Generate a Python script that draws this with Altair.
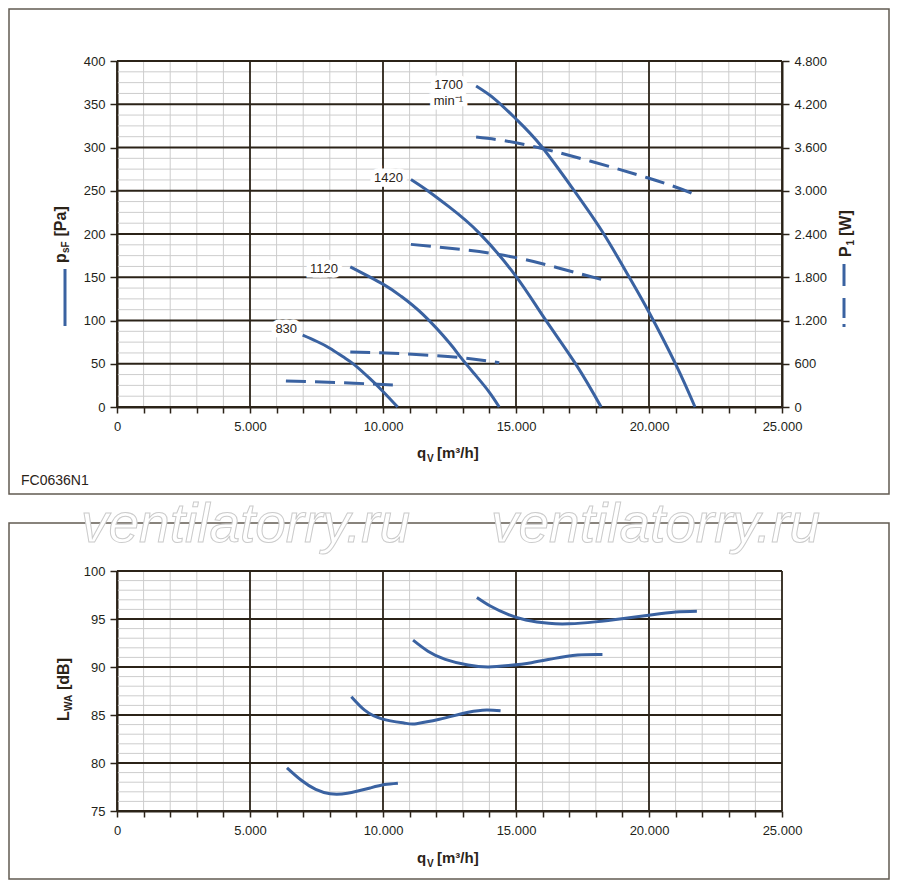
#%%
import pandas as pd
import altair as alt

#%%
# characteristic curves (speeds in min-1)
speeds = ["830", "1120", "1420", "1700"]

# static pressure p_sF [Pa] over air flow q_V [m3/h]
q_830 = [6980, 7500, 8000, 8500, 8920, 9500, 10000, 10550]
p_830 = [83, 76, 68, 58, 49, 33, 18, 0]
q_1120 = [8770, 10000, 10680, 11500, 12500, 12930, 13500, 14000, 14370]
p_1120 = [162, 142, 128, 107, 74, 57, 36, 17, 0]
q_1420 = [11050, 11680, 12500, 13620, 15000, 16060, 17260, 18200]
p_1420 = [263, 250, 231, 201, 151, 103, 49, 0]
q_1700 = [13500, 14200, 15000, 15940, 17190, 18260, 19260, 20010, 21010, 21730]
p_1700 = [371, 356, 333, 302, 250, 202, 150, 109, 49, 0]

# input power P_1 [W]
qw_830 = [6350, 8920, 10550]
w_830 = [362, 330, 300]
qw_1120 = [8770, 10680, 12930, 14370]
w_1120 = [763, 740, 684, 614]
qw_1420 = [11050, 14310, 16560, 18200]
w_1420 = [2256, 2118, 1932, 1771]
qw_1700 = [13500, 15940, 19940, 21770]
w_1700 = [3745, 3590, 3180, 2940]

# sound power L_WA [dB]
ql_830 = [6390, 6930, 7470, 8010, 8660, 9520, 10060, 10560]
l_830 = [79.5, 78.2, 77.25, 76.8, 76.85, 77.4, 77.75, 77.9]
ql_1120 = [8810, 9310, 9960, 10820, 11260, 12120, 12990, 13740, 14420]
l_1120 = [86.9, 85.5, 84.6, 84.15, 84.1, 84.55, 85.15, 85.5, 85.45]
ql_1420 = [11130, 11690, 12340, 13200, 13960, 14720, 15580, 16450, 17320, 18250]
l_1420 = [92.8, 91.65, 90.8, 90.2, 90.0, 90.15, 90.45, 90.9, 91.25, 91.3]
ql_1700 = [13530, 14070, 14720, 15370, 16230, 16990, 17970, 19050, 20130, 21000, 21800]
l_1700 = [97.25, 96.3, 95.45, 94.9, 94.55, 94.5, 94.7, 95.05, 95.45, 95.72, 95.8]

# speed labels next to the pressure curves
label_text = ["830", "1120", "1420", "1700", "min⁻¹"]
label_q = [6770, 8310, 10750, 13010, 13010]
label_p = [90, 159.5, 265, 372, 353.8]

# axis ticks
q_ticks = list(range(0, 25001, 1000))
p_ticks = list(range(0, 401, 50))
w_ticks = list(range(0, 4801, 600))
l_ticks = list(range(75, 101, 5))

#%%
BLUE = "#3a62a1"
INK = "#2b2318"
GRID = "#cdcdcd"
FONT = "Liberation Sans"
dummy = pd.DataFrame({"a": [0]})


def curves(pairs, yname):
    return pd.concat([pd.DataFrame({"q": q, yname: v, "speed": s})
                      for (q, v), s in zip(pairs, speeds)])


pressure = curves([(q_830, p_830), (q_1120, p_1120), (q_1420, p_1420), (q_1700, p_1700)], "p")
power = curves([(qw_830, w_830), (qw_1120, w_1120), (qw_1420, w_1420), (qw_1700, w_1700)], "w")
sound = curves([(ql_830, l_830), (ql_1120, l_1120), (ql_1420, l_1420), (ql_1700, l_1700)], "l")
labels = pd.DataFrame({"q": label_q, "p": label_p, "label": label_text})

german = "datum.value == 0 ? '0' : replace(format(datum.value, ','), ',', '.')"
x_scale = alt.Scale(domain=[0, 25000], nice=False, zero=False)
p_scale = alt.Scale(domain=[0, 400], nice=False, zero=False)
w_scale = alt.Scale(domain=[0, 4800], nice=False, zero=False)
l_scale = alt.Scale(domain=[75, 100], nice=False, zero=False)

# the same axis object goes on every layer sharing a scale, so the layers merge cleanly
x_axis = alt.Axis(values=q_ticks, title=None, grid=False, tickSize=6, tickWidth=1.5,
                  labelPadding=7, labelOverlap=False, labelFlush=False,
                  labelExpr="datum.value % 5000 == 0 ? (" + german + ") : ''")
p_axis = alt.Axis(values=p_ticks, title=None, grid=False, tickSize=7, tickWidth=1.5,
                  labelPadding=5, labelFlush=False, labelOverlap=False)
w_axis = alt.Axis(orient="right", values=w_ticks, title=None, grid=False, tickSize=7,
                  tickWidth=1.5, labelPadding=5, labelFlush=False, labelOverlap=False,
                  labelExpr=german)
l_axis = alt.Axis(values=l_ticks, title=None, grid=False, tickSize=7, tickWidth=1.5,
                  labelPadding=5, labelFlush=False, labelOverlap=False)


def text_at(text, x, y, size=16, weight="bold", angle=0, **kw):
    opts = dict(text=text, fontSize=size, fontWeight=weight, font=FONT, color=INK,
                align="left", baseline="alphabetic", **kw)
    if angle:
        opts["angle"] = angle
    return alt.Chart(dummy).mark_text(**opts).encode(x=alt.value(x), y=alt.value(y))


def frame(x1, x2, y1, y2):
    return alt.Chart(dummy).mark_rect(fillOpacity=0, stroke="#625b51", strokeWidth=1.5).encode(
        x=alt.value(x1), x2=alt.value(x2), y=alt.value(y1), y2=alt.value(y2))


def rule(x, y1, y2):
    return alt.Chart(dummy).mark_rule(color=BLUE, strokeWidth=3).encode(
        x=alt.value(x), y=alt.value(y1), y2=alt.value(y2))


def grid(ticks, major_step, channel, scale, axis):
    minor = pd.DataFrame({"v": [t for t in ticks if t % major_step]})
    major = pd.DataFrame({"v": [t for t in ticks if t % major_step == 0]})
    enc = alt.X if channel == "x" else alt.Y
    lo = alt.Chart(minor).mark_rule(color=GRID, strokeWidth=1).encode(
        **{channel: enc("v:Q", scale=scale, axis=axis)})
    hi = alt.Chart(major).mark_rule(color=INK, strokeWidth=1.8).encode(
        **{channel: enc("v:Q", scale=scale, axis=axis)})
    return lo, hi


#%%
# top diagram: pressure and power
vx_lo, vx_hi = grid(q_ticks, 5000, "x", x_scale, x_axis)
hy_lo, hy_hi = grid([v * 12.5 for v in range(33)], 50, "y", p_scale, p_axis)

pressure_lines = alt.Chart(pressure).mark_line(
    interpolate="natural", color=BLUE, strokeWidth=3).encode(
    x=alt.X("q:Q", scale=x_scale, axis=x_axis),
    y=alt.Y("p:Q", scale=p_scale, axis=p_axis),
    detail="speed:N")

halo = alt.Chart(labels).mark_text(
    align="right", baseline="middle", fontSize=13, font=FONT, fill="white",
    stroke="white", strokeWidth=9).encode(
    x=alt.X("q:Q", scale=x_scale, axis=x_axis), y=alt.Y("p:Q", scale=p_scale, axis=p_axis),
    text="label:N")
label_marks = alt.Chart(labels).mark_text(
    align="right", baseline="middle", fontSize=13, font=FONT, color=INK).encode(
    x=alt.X("q:Q", scale=x_scale, axis=x_axis), y=alt.Y("p:Q", scale=p_scale, axis=p_axis),
    text="label:N")

main = alt.layer(vx_lo, hy_lo, vx_hi, hy_hi, halo, pressure_lines, label_marks)

power_lines = alt.Chart(power).mark_line(
    interpolate="natural", color=BLUE, strokeWidth=3, strokeDash=[20, 9]).encode(
    x=alt.X("q:Q", scale=x_scale, axis=x_axis),
    y=alt.Y("w:Q", scale=w_scale, axis=w_axis),
    detail="speed:N")

top = alt.layer(
    frame(-108, 772, -52, 433),
    main, power_lines,
    rule(-52, 208, 265),
    rule(727, 203, 225), rule(727, 237, 257), rule(727, 263, 266),
    text_at("p", -51, 202, angle=270),
    text_at("sF", -48, 192, size=10, angle=270),
    text_at("[Pa]", -51, 175.5, angle=270),
    text_at("P", 734, 196, angle=270),
    text_at("1", 737, 184.5, size=10, angle=270),
    text_at("[W]", 734, 175, angle=270),
    text_at("q", 300, 397, size=15),
    text_at("V", 310, 401, size=10),
    text_at("[m³/h]", 320, 397, size=15),
    text_at("FC0636N1", -96, 424, size=14, weight="normal"),
).resolve_scale(y="independent").properties(width=665, height=346)

#%%
# bottom diagram: sound power
bx_lo, bx_hi = grid(q_ticks, 5000, "x", x_scale, x_axis)
by_lo, by_hi = grid(list(range(75, 101)), 5, "y", l_scale, l_axis)

sound_lines = alt.Chart(sound).mark_line(
    interpolate="natural", color=BLUE, strokeWidth=3).encode(
    x=alt.X("q:Q", scale=x_scale, axis=x_axis),
    y=alt.Y("l:Q", scale=l_scale, axis=l_axis),
    detail="speed:N")

# invisible strip that fixes the top edge of the lower panel
spacer = alt.Chart(dummy).mark_rect(color="white").encode(
    x=alt.value(0), x2=alt.value(2), y=alt.value(-75), y2=alt.value(-73))

watermark = [
    alt.Chart(dummy).mark_text(
        text="ventilatorry.ru", fontSize=55, fontStyle="italic", font=FONT, align="left",
        baseline="alphabetic", fill="white", stroke="#cbcbcb", strokeWidth=1).encode(
        x=alt.value(x), y=alt.value(-29))
    for x in (-36, 374)
]

bottom = alt.layer(
    spacer,
    frame(-108, 772, -48, 308),
    bx_lo, by_lo, bx_hi, by_hi, sound_lines,
    *watermark,
    text_at("L", -48, 150, angle=270),
    text_at("WA", -45, 140, size=10, angle=270),
    text_at("[dB]", -48, 119, angle=270),
    text_at("q", 300, 292, size=15),
    text_at("V", 310, 296, size=10),
    text_at("[m³/h]", 320, 292, size=15),
).properties(width=665, height=240)

#%%
chart = (alt.vconcat(top, bottom, spacing=1)
    .properties(padding=0, background="white")
    .configure_view(stroke=None)
    .configure_axis(labelFont=FONT, labelFontSize=13, labelColor="#231f1a",
                    domainColor=INK, domainWidth=2, tickColor=INK))

chart.save("out.html", embed_options={"renderer": "svg", "actions": False})
